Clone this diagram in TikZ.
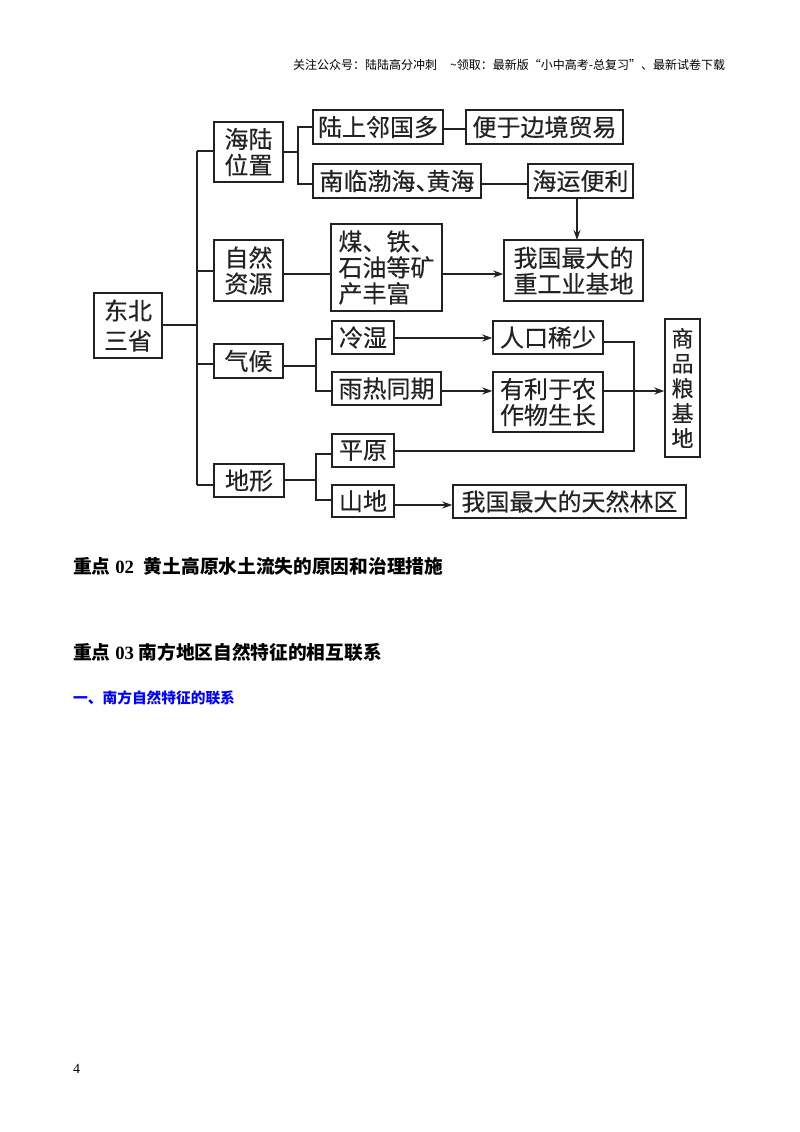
\documentclass[tikz,border=0pt]{standalone}
\usepackage{fontspec}
\setmainfont{Liberation Serif}
\newfontfamily\cjk{Noto Sans CJK SC}
\newfontfamily\cjkbox[FakeBold=0.35]{Noto Sans CJK SC}
\usetikzlibrary{arrows.meta}
\pgfdeclarelayer{edgelayer}
\pgfdeclarelayer{nodelayer}
\pgfsetlayers{edgelayer,nodelayer,main}
\definecolor{ink}{HTML}{222222}
\definecolor{headblue}{HTML}{0000FF}
\tikzstyle{none}=[inner sep=0pt,minimum size=0pt]
\tikzstyle{box}=[draw=ink,line width=1.4pt,inner sep=0pt,align=center,text=ink,font=\cjkbox\fontsize{24}{26}\selectfont]
\tikzstyle{line}=[draw=ink,line width=1.4pt]
\tikzstyle{arrow}=[line,-{Stealth[length=10pt,width=7pt]}]
\tikzstyle{title}=[inner sep=0pt,anchor=west,font=\bfseries\fontsize{18.7}{22}\selectfont]

\begin{document}
\begin{tikzpicture}[x=1pt,y=-1pt]
	\useasboundingbox (0,0) rectangle (800,1132);
	\begin{pgfonlayer}{nodelayer}
		\node [style=box,minimum width=68pt,minimum height=65pt,font=\cjkbox\fontsize{24}{30}\selectfont] (dongbei) at (128,325.5) {东北\\三省};
		\node [style=box,minimum width=69pt,minimum height=60pt] (haiwei) at (248.5,152) {海陆\\位置};
		\node [style=box,minimum width=69pt,minimum height=61pt] (ziran) at (248.5,270.5) {自然\\资源};
		\node [style=box,minimum width=69pt,minimum height=34pt] (qihou) at (248.5,361) {气候};
		\node [style=box,minimum width=70pt,minimum height=33pt] (dixing) at (249,480.5) {地形};
		\node [style=box,minimum width=130pt,minimum height=34pt] (linguo) at (378,127) {陆上邻国多};
		\node [style=box,minimum width=157pt,minimum height=34pt] (bianjing) at (544.5,127) {便于边境贸易};
		\node [style=box,minimum width=168pt,minimum height=34pt] (nanlin) at (397,181) {南临渤海、\kern-13pt黄海};
		\node [style=box,minimum width=105pt,minimum height=34pt] (haiyun) at (580.5,181) {海运便利};
		\node [style=box,minimum width=111pt,minimum height=87pt,align=left] (meitie) at (386.5,267.5) {煤、铁、\\石油等矿\\产丰富};
		\node [style=box,minimum width=139pt,minimum height=61pt] (zhonggong) at (573.5,270.5) {我国最大的\\重工业基地};
		\node [style=box,minimum width=62pt,minimum height=33pt] (lengshi) at (363,337.5) {冷湿};
		\node [style=box,minimum width=109pt,minimum height=33pt] (yure) at (386.5,388.5) {雨热同期};
		\node [style=box,minimum width=110pt,minimum height=33pt] (renkou) at (548,337.5) {人口稀少};
		\node [style=box,minimum width=110pt,minimum height=60pt] (nongzuo) at (548,402) {有利于农\\作物生长};
		\node [style=box,minimum width=35pt,minimum height=138pt,font=\cjkbox\fontsize{22}{25}\selectfont] (shangpin) at (682.5,388) {商\\品\\粮\\基\\地};
		\node [style=box,minimum width=62pt,minimum height=33pt] (pingyuan) at (363,450.5) {平原};
		\node [style=box,minimum width=62pt,minimum height=32pt] (shandi) at (363,501) {山地};
		\node [style=box,minimum width=233pt,minimum height=33pt] (linqu) at (569.5,501.5) {我国最大的天然林区};
		% junctions
		\node [style=none] (t0) at (197,325) {};
		\node [style=none] (t1) at (197,151) {};
		\node [style=none] (t2) at (197,271) {};
		\node [style=none] (t3) at (197,364) {};
		\node [style=none] (t4) at (197,485) {};
		\node [style=none] (h0) at (298,152) {};
		\node [style=none] (h1) at (298,127) {};
		\node [style=none] (h2) at (298,184) {};
		\node [style=none] (q0) at (316,366) {};
		\node [style=none] (q1) at (316,339) {};
		\node [style=none] (q2) at (316,391) {};
		\node [style=none] (d0) at (316,480) {};
		\node [style=none] (d1) at (316,454) {};
		\node [style=none] (d2) at (316,500) {};
		\node [style=none] (r0) at (634,342) {};
		\node [style=none] (r1) at (634,451) {};
		\node [style=none] (m0) at (577,181) {};
		\node [style=none] (z0) at (577,240) {};
		\node [style=none] (z1) at (316,274) {};
		\node [style=none] (b0) at (450,129) {};
		\node [style=none] (l0) at (420,338) {};
		\node [style=none] (s0) at (420,505) {};
		% page text
		\node [inner sep=0pt,anchor=west,font=\cjk\fontsize{12}{14}\selectfont] (header) at (293,65) {关注公众号：陆陆高分冲刺\hspace{13pt}\textasciitilde 领取：最新版“小中高考-总复习”、最新试卷下载};
		\node [style=title] (title2) at (73,566) {{\cjk 重点} 02\hspace{10pt}{\cjk 黄土高原水土流失的原因和治理措施}};
		\node [style=title] (title3) at (73,652) {{\cjk 重点} 03 {\cjk 南方地区自然特征的相互联系}};
		\node [inner sep=0pt,anchor=west,text=headblue,font=\cjk\bfseries\fontsize{14.7}{18}\selectfont] (sub1) at (73,698) {一、南方自然特征的联系};
		\node [inner sep=0pt,anchor=west,font=\fontsize{14}{16}\selectfont] (pagenum) at (73,1069) {4};
	\end{pgfonlayer}
	\begin{pgfonlayer}{edgelayer}
		\draw [style=line] (t1.center) -- (t4.center);
		\draw [style=line] (dongbei.east |- t0.center) -- (t0.center);
		\draw [style=line] (t1.center) -- (haiwei.west |- t1.center);
		\draw [style=line] (t2.center) -- (ziran.west |- t2.center);
		\draw [style=line] (t3.center) -- (qihou.west |- t3.center);
		\draw [style=line] (t4.center) -- (dixing.west |- t4.center);
		\draw [style=line] (haiwei.east |- h0.center) -- (h0.center);
		\draw [style=line] (linguo.west |- h1.center) -- (h1.center) -- (h2.center) -- (nanlin.west |- h2.center);
		\draw [style=line] (linguo.east |- b0.center) -- (bianjing.west |- b0.center);
		\draw [style=line] (nanlin.east |- h2.center) -- (haiyun.west |- h2.center);
		\draw [style=arrow] (haiyun.south -| m0.center) -- (z0.center);
		\draw [style=line] (ziran.east |- z1.center) -- (meitie.west |- z1.center);
		\draw [style=arrow] (meitie.east |- z1.center) -- (zhonggong.west |- z1.center);
		\draw [style=line] (qihou.east |- q0.center) -- (q0.center);
		\draw [style=line] (lengshi.west |- q1.center) -- (q1.center) -- (q2.center) -- (yure.west |- q2.center);
		\draw [style=arrow] (lengshi.east |- l0.center) -- (renkou.west |- l0.center);
		\draw [style=arrow] (yure.east |- q2.center) -- (nongzuo.west |- q2.center);
		\draw [style=arrow] (nongzuo.east |- q2.center) -- (shangpin.west |- q2.center);
		\draw [style=line] (renkou.east |- r0.center) -- (r0.center) -- (r1.center) -- (pingyuan.east |- r1.center);
		\draw [style=line] (dixing.east |- d0.center) -- (d0.center);
		\draw [style=line] (pingyuan.west |- d1.center) -- (d1.center) -- (d2.center) -- (shandi.west |- d2.center);
		\draw [style=arrow] (shandi.east |- s0.center) -- (linqu.west |- s0.center);
	\end{pgfonlayer}
\end{tikzpicture}
\end{document}
